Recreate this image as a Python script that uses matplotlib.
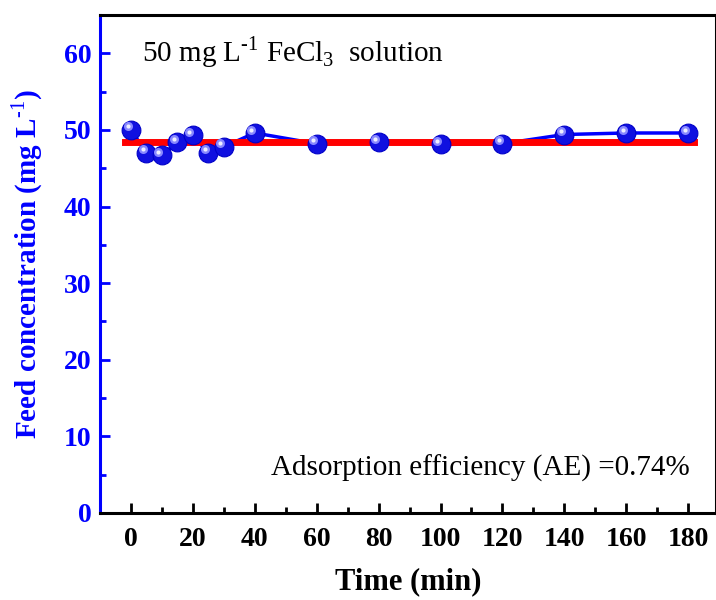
import matplotlib
matplotlib.use("Agg")
import matplotlib.pyplot as plt
import matplotlib.transforms as mtransforms
from matplotlib.ticker import MultipleLocator

# time (min) and feed concentration (mg/L)
time_min = [0, 5, 10, 15, 20, 25, 30, 40, 60, 80, 100, 120, 140, 160, 180]
feed_conc = [50.0, 47.0, 46.7, 48.4, 49.3, 47.0, 47.8, 49.6, 48.2, 48.4, 48.1, 48.2, 49.4, 49.6, 49.6]
mean_conc = 48.4
mean_span = [-2, 182]

xticks = [0, 20, 40, 60, 80, 100, 120, 140, 160, 180]
yticks = [0, 10, 20, 30, 40, 50, 60]

plt.rcParams['font.family'] = ['Liberation Serif', 'DejaVu Serif']
plt.rcParams['mathtext.fontset'] = 'custom'
plt.rcParams['mathtext.rm'] = 'Liberation Serif'
plt.rcParams['mathtext.bf'] = 'Liberation Serif:bold'

blue = '#0000ff'

fig = plt.figure(figsize=(7.16, 6), dpi=100)
ax = fig.add_axes([0.1397, 0.145, 0.8603, 0.83])

# connecting line and spheres
ax.plot(time_min, feed_conc, color=blue, lw=2.5, zorder=2)
ax.plot(time_min, feed_conc, 'o', color='#1010e0', ms=13.5, mec='#0000c8', mew=0.8, zorder=4)
hl = ax.transData + mtransforms.ScaledTranslation(-2.5/72, 2.5/72, fig.dpi_scale_trans)
ax.plot(time_min, feed_conc, 'o', color='#8888ff', ms=6.5, mew=0, transform=hl, zorder=5)
ax.plot(time_min, feed_conc, 'o', color='#eeeeff', ms=3, mew=0, transform=hl, zorder=6)

# mean line
ax.plot(mean_span, [mean_conc, mean_conc], color='#ff0000', lw=5, zorder=3)

ax.set_xlim(-10, 189)
ax.set_ylim(0, 65)
ax.set_xticks(xticks)
ax.set_yticks(yticks)
ax.xaxis.set_minor_locator(MultipleLocator(10))
ax.yaxis.set_minor_locator(MultipleLocator(5))

ax.tick_params(axis='both', which='major', direction='in', length=7, width=2, labelsize=20)
ax.tick_params(axis='both', which='minor', direction='in', length=4, width=2)
ax.tick_params(axis='x', pad=10)
ax.tick_params(axis='y', which='both', colors=blue, labelcolor=blue, pad=6)
for lab in ax.get_xticklabels() + ax.get_yticklabels():
    lab.set_fontweight('bold')

for s in ['top', 'bottom', 'right']:
    ax.spines[s].set_linewidth(2.2)
    ax.spines[s].set_color('black')
ax.spines['left'].set_linewidth(2.2)
ax.spines['left'].set_color(blue)

ax.set_xlabel('Time (min)', fontsize=22, fontweight='bold', labelpad=11)
ax.set_ylabel('Feed concentration (mg L$^{\\mathbf{\\text{-1}}}$)', fontsize=21, fontweight='bold',
              color=blue, labelpad=14)

ax.text(0.068, 0.925, '50 mg L$^{\\text{-1}}$ FeCl$_3$  solution', transform=ax.transAxes,
        fontsize=21, va='center')
ax.text(0.957, 0.09, 'Adsorption efficiency (AE) =0.74%', transform=ax.transAxes,
        fontsize=21, ha='right', va='center')

fig.savefig('out.png', dpi=100)
